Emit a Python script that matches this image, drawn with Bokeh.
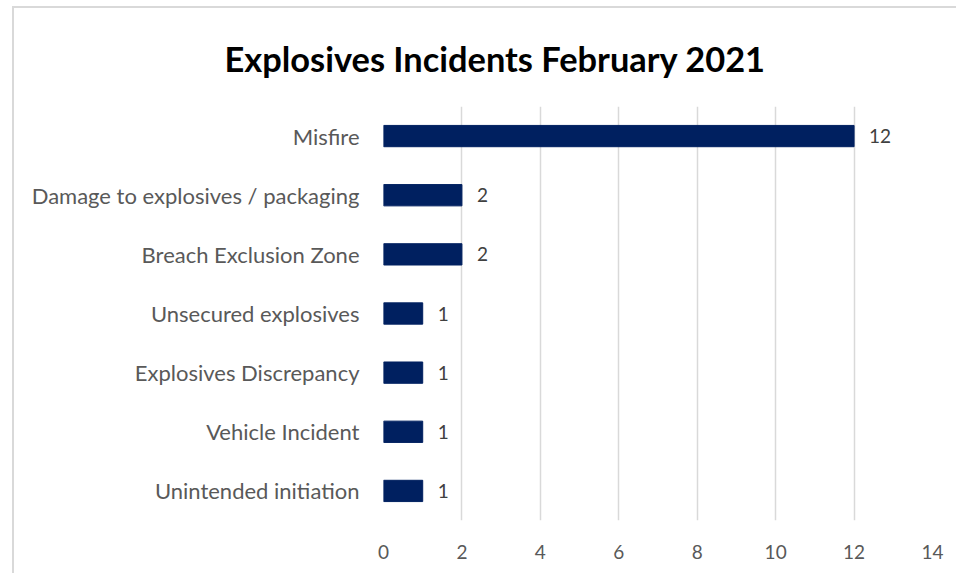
from bokeh.plotting import figure
from bokeh.models import ColumnDataSource, FactorRange, Range1d, FixedTicker, LabelSet
from bokeh.core.properties import value
from bokeh.embed import file_html
from bokeh.resources import INLINE

categories = ["Misfire", "Damage to explosives / packaging", "Breach Exclusion Zone",
              "Unsecured explosives", "Explosives Discrepancy", "Vehicle Incident",
              "Unintended initiation"]
counts = [12, 2, 2, 1, 1, 1, 1]
x_ticks = [0, 2, 4, 6, 8, 10, 12, 14]
title_text = "Explosives Incidents February 2021"

src = ColumnDataSource(dict(cat=categories, val=counts, lbl=[str(v) for v in counts]))

p = figure(width=944, height=567, output_backend="svg", toolbar_location=None,
           y_range=FactorRange(factors=list(reversed(categories))),
           x_range=Range1d(0, 14),
           min_border_left=369, min_border_right=26, min_border_top=98, min_border_bottom=55)
p.styles = {"border-left": "2px solid #d9d9d9", "border-top": "2px solid #d9d9d9",
            "margin-left": "12px", "margin-top": "6px"}

p.hbar(y="cat", right="val", left=0, height=0.36, source=src, color="#002060")

p.add_layout(LabelSet(x="val", y="cat", text="lbl", source=src, x_offset=15,
                      text_baseline="middle", text_font=value("Lato"), text_font_size="19px",
                      text_color="#404040"))

p.title.text = title_text
p.title.align = "left"
p.title.offset = -159
p.title.text_font = "Lato"
p.title.text_font_style = "bold"
p.title.text_font_size = "34.4px"
p.title.text_color = "#000000"
p.title.vertical_align = "top"
p.title.standoff = 51

p.outline_line_color = None
p.xgrid.ticker = FixedTicker(ticks=x_ticks)
p.xaxis.ticker = FixedTicker(ticks=x_ticks)
p.xgrid.grid_line_color = "#d9d9d9"
p.xgrid.grid_line_width = 1.5
p.ygrid.grid_line_color = None

for ax in (p.xaxis, p.yaxis):
    ax.axis_line_color = None
    ax.major_tick_line_color = None
    ax.minor_tick_line_color = None
    ax.major_label_text_font = "Lato"
    ax.major_label_text_color = "#595959"

p.xaxis.major_label_text_font_size = "19px"
p.xaxis.major_label_standoff = 18
p.yaxis.major_label_text_font_size = "22px"
p.yaxis.major_label_standoff = 18

open("out.html", "w").write(file_html(p, INLINE))
